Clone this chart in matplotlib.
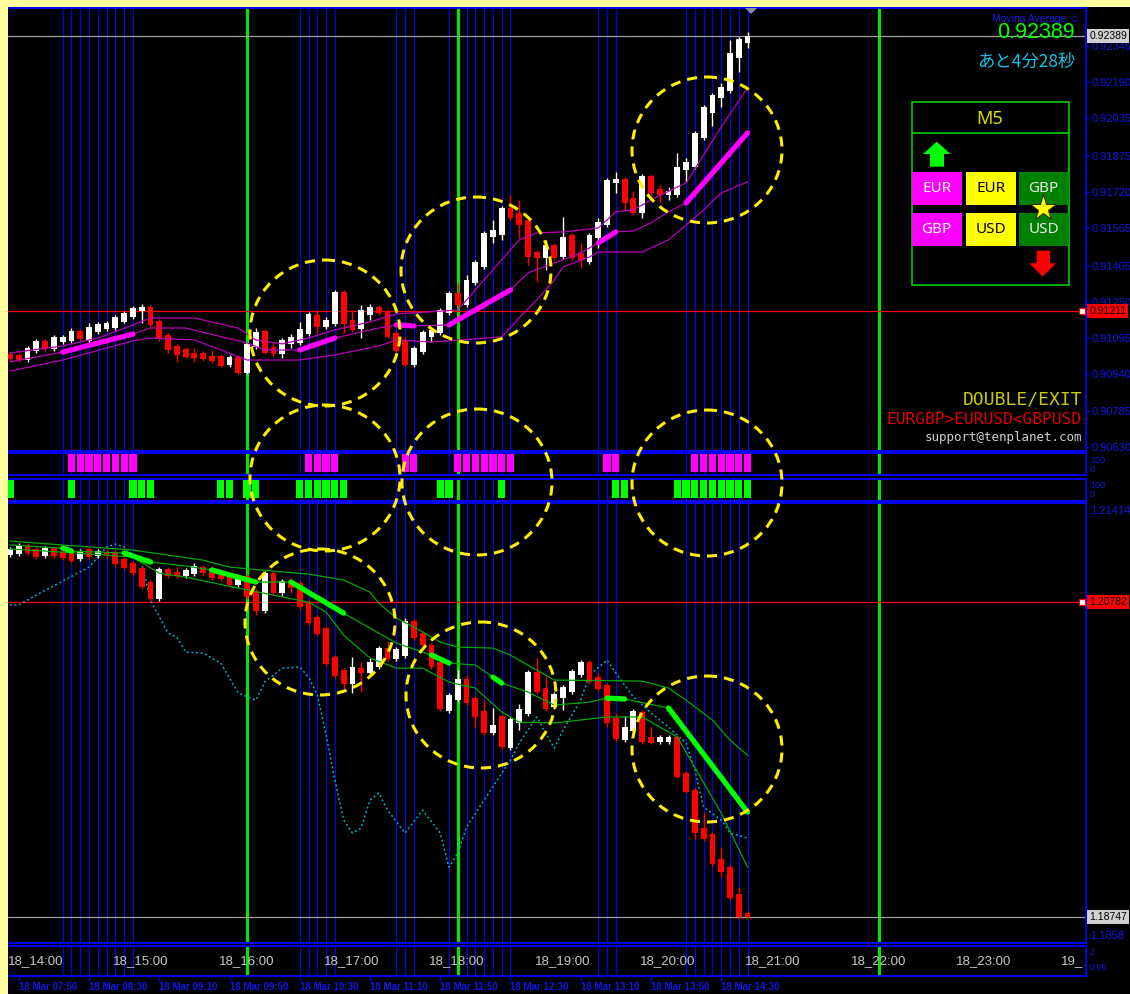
import numpy as np
import matplotlib
matplotlib.use('Agg')
import matplotlib.pyplot as plt
from matplotlib.patches import Rectangle, Ellipse, Polygon
from matplotlib.transforms import blended_transform_factory

plt.rcParams['font.family'] = ['Liberation Sans', 'DejaVu Sans']

# ---------------- data ----------------
# EURGBP M5 candles (top panel), 85 bars from 18_14:00
eg_open = [0.91027, 0.91023, 0.91001, 0.91040, 0.91083, 0.91048, 0.91078, 0.91083, 0.91125, 0.91083,
           0.91121, 0.91134, 0.91138, 0.91164, 0.91185, 0.91211, 0.91228, 0.91168, 0.91108, 0.91061,
           0.91048, 0.91031, 0.91031, 0.91018, 0.91018, 0.90980, 0.91014, 0.90946, 0.91057, 0.91125,
           0.91057, 0.91027, 0.91070, 0.91074, 0.91112, 0.91194, 0.91142, 0.91155, 0.91292, 0.91172,
           0.91134, 0.91194, 0.91228, 0.91211, 0.91117, 0.91087, 0.90980, 0.91035, 0.91100, 0.91117,
           0.91202, 0.91288, 0.91237, 0.91331, 0.91399, 0.91528, 0.91536, 0.91652, 0.91630, 0.91600,
           0.91463, 0.91438, 0.91493, 0.91442, 0.91536, 0.91459, 0.91421, 0.91523, 0.91579, 0.91759,
           0.91776, 0.91695, 0.91630, 0.91789, 0.91733, 0.91707, 0.91707, 0.91814, 0.91827, 0.91951,
           0.92058, 0.92123, 0.92153, 0.92294, 0.92358]
eg_high = [0.91035, 0.91031, 0.91061, 0.91091, 0.91091, 0.91108, 0.91108, 0.91138, 0.91134, 0.91160,
           0.91164, 0.91168, 0.91194, 0.91211, 0.91232, 0.91241, 0.91237, 0.91177, 0.91117, 0.91070,
           0.91057, 0.91052, 0.91040, 0.91044, 0.91027, 0.91023, 0.91023, 0.91078, 0.91138, 0.91134,
           0.91074, 0.91095, 0.91112, 0.91164, 0.91207, 0.91215, 0.91185, 0.91301, 0.91301, 0.91215,
           0.91237, 0.91241, 0.91237, 0.91219, 0.91125, 0.91100, 0.91061, 0.91130, 0.91138, 0.91224,
           0.91297, 0.91331, 0.91365, 0.91429, 0.91553, 0.91600, 0.91660, 0.91707, 0.91686, 0.91609,
           0.91472, 0.91515, 0.91502, 0.91613, 0.91545, 0.91502, 0.91545, 0.91609, 0.91780, 0.91806,
           0.91784, 0.91725, 0.91797, 0.91797, 0.91750, 0.91742, 0.91887, 0.91866, 0.91981, 0.92093,
           0.92144, 0.92187, 0.92371, 0.92384, 0.92405]
eg_low = [0.90997, 0.90993, 0.90993, 0.91031, 0.91040, 0.91040, 0.91070, 0.91074, 0.91083, 0.91074,
          0.91112, 0.91125, 0.91130, 0.91160, 0.91177, 0.91160, 0.91142, 0.91083, 0.91031, 0.90993,
          0.91010, 0.90993, 0.90997, 0.90988, 0.90971, 0.90971, 0.90941, 0.90941, 0.91048, 0.91027,
          0.91018, 0.91010, 0.91052, 0.91065, 0.91104, 0.91117, 0.91134, 0.91147, 0.91117, 0.91121,
          0.91095, 0.91172, 0.91194, 0.91095, 0.91035, 0.90975, 0.90971, 0.91027, 0.91078, 0.91108,
          0.91194, 0.91228, 0.91228, 0.91322, 0.91391, 0.91502, 0.91515, 0.91600, 0.91523, 0.91408,
          0.91335, 0.91386, 0.91429, 0.91433, 0.91429, 0.91395, 0.91412, 0.91481, 0.91570, 0.91716,
          0.91643, 0.91622, 0.91609, 0.91707, 0.91678, 0.91686, 0.91699, 0.91763, 0.91819, 0.91943,
          0.92003, 0.92084, 0.92144, 0.92234, 0.92337]
eg_close = [0.91005, 0.91001, 0.91052, 0.91083, 0.91048, 0.91100, 0.91100, 0.91125, 0.91091, 0.91142,
            0.91155, 0.91160, 0.91185, 0.91202, 0.91224, 0.91228, 0.91151, 0.91091, 0.91044, 0.91023,
            0.91014, 0.91010, 0.91005, 0.90997, 0.90975, 0.91014, 0.90946, 0.91070, 0.91121, 0.91031,
            0.91027, 0.91087, 0.91100, 0.91134, 0.91198, 0.91142, 0.91172, 0.91292, 0.91155, 0.91130,
            0.91215, 0.91228, 0.91202, 0.91100, 0.91040, 0.90980, 0.91052, 0.91121, 0.91130, 0.91215,
            0.91288, 0.91237, 0.91344, 0.91421, 0.91545, 0.91558, 0.91652, 0.91609, 0.91579, 0.91442,
            0.91438, 0.91493, 0.91438, 0.91528, 0.91438, 0.91429, 0.91536, 0.91592, 0.91772, 0.91776,
            0.91673, 0.91630, 0.91789, 0.91716, 0.91707, 0.91725, 0.91827, 0.91849, 0.91973, 0.92084,
            0.92135, 0.92170, 0.92315, 0.92375, 0.92388]

# EURGBP moving-average band (vertices: bar index, price)
eg_up_i = [0, 6, 10, 14, 16, 21, 26, 28, 31, 34, 37, 41, 44, 51, 54, 58, 60, 63, 67, 69, 71, 73, 77, 81, 84]
eg_up = [0.91031, 0.91061, 0.91095, 0.91151, 0.91181, 0.91181, 0.91138, 0.91087, 0.91070, 0.91095,
         0.91130, 0.91164, 0.91198, 0.91215, 0.91344, 0.91515, 0.91545, 0.91549, 0.91566, 0.91635,
         0.91643, 0.91686, 0.91759, 0.91998, 0.92165]
eg_mid_i = [0, 6, 14, 16, 20, 27, 29, 33, 37, 42, 44, 46, 50, 57, 59, 62, 65, 67, 69, 71, 73, 75, 77, 84]
eg_mid = [0.90993, 0.91035, 0.91112, 0.91138, 0.91138, 0.91074, 0.91044, 0.91044, 0.91095, 0.91138,
          0.91151, 0.91147, 0.91151, 0.91301, 0.91374, 0.91416, 0.91459, 0.91502, 0.91549, 0.91553,
          0.91588, 0.91635, 0.91673, 0.91973]
eg_lo_i = [0, 6, 14, 16, 21, 27, 33, 37, 42, 44, 48, 56, 58, 60, 62, 63, 66, 67, 72, 75, 77, 79, 81, 84]
eg_lo = [0.90954, 0.91001, 0.91083, 0.91095, 0.91087, 0.91001, 0.91001, 0.91023, 0.91061, 0.91087,
         0.91078, 0.91100, 0.91181, 0.91258, 0.91344, 0.91399, 0.91442, 0.91463, 0.91463, 0.91515,
         0.91579, 0.91643, 0.91716, 0.91763]
eg_trend = [(6, 14), (33, 37), (44, 46), (50, 57), (67, 69), (77, 84)]

# EURUSD M5 candles (lower panel)
eu_open = [1.21088, 1.21094, 1.21153, 1.21127, 1.21082, 1.21133, 1.21107, 1.21101, 1.21062, 1.21127,
           1.21082, 1.21107, 1.21107, 1.21062, 1.21036, 1.21004, 1.20913, 1.20803, 1.20997, 1.20978,
           1.20952, 1.20965, 1.21010, 1.21004, 1.20971, 1.20958, 1.20893, 1.20952, 1.20854, 1.20725,
           1.20971, 1.20841, 1.20919, 1.20906, 1.20783, 1.20686, 1.20615, 1.20427, 1.20343, 1.20253,
           1.20356, 1.20324, 1.20363, 1.20486, 1.20414, 1.20434, 1.20660, 1.20583, 1.20505, 1.20395,
           1.20078, 1.20149, 1.20285, 1.20162, 1.20078, 1.19936, 1.20046, 1.19839, 1.20001, 1.20059,
           1.20330, 1.20227, 1.20104, 1.20162, 1.20201, 1.20311, 1.20395, 1.20298, 1.20246, 1.20035,
           1.19890, 1.19949, 1.20072, 1.19910, 1.19877, 1.19877, 1.19910, 1.19677, 1.19567, 1.19321,
           1.19282, 1.19120, 1.19068, 1.18894, 1.18771]
eu_high = [1.21140, 1.21166, 1.21166, 1.21140, 1.21146, 1.21146, 1.21120, 1.21114, 1.21127, 1.21140,
           1.21127, 1.21127, 1.21120, 1.21075, 1.21049, 1.21017, 1.20926, 1.21010, 1.21010, 1.21010,
           1.21004, 1.21036, 1.21023, 1.21017, 1.20984, 1.20971, 1.20965, 1.20965, 1.20867, 1.20984,
           1.20984, 1.20932, 1.20939, 1.20919, 1.20796, 1.20699, 1.20628, 1.20440, 1.20356, 1.20427,
           1.20395, 1.20421, 1.20499, 1.20531, 1.20492, 1.20680, 1.20673, 1.20596, 1.20520, 1.20408,
           1.20195, 1.20343, 1.20311, 1.20175, 1.20149, 1.20098, 1.20059, 1.20040, 1.20123, 1.20343,
           1.20421, 1.20305, 1.20201, 1.20246, 1.20350, 1.20408, 1.20408, 1.20324, 1.20259, 1.20065,
           1.20046, 1.20091, 1.20085, 1.19975, 1.19923, 1.19923, 1.19923, 1.19690, 1.19580, 1.19424,
           1.19295, 1.19198, 1.19081, 1.18939, 1.18784]
eu_low = [1.21075, 1.21082, 1.21088, 1.21062, 1.21069, 1.21069, 1.21055, 1.21036, 1.21049, 1.21062,
          1.21069, 1.21069, 1.21017, 1.20991, 1.20958, 1.20867, 1.20790, 1.20790, 1.20939, 1.20939,
          1.20939, 1.20952, 1.20958, 1.20926, 1.20919, 1.20880, 1.20880, 1.20803, 1.20699, 1.20712,
          1.20829, 1.20822, 1.20841, 1.20732, 1.20635, 1.20564, 1.20369, 1.20292, 1.20214, 1.20195,
          1.20201, 1.20311, 1.20350, 1.20401, 1.20401, 1.20421, 1.20538, 1.20492, 1.20350, 1.20078,
          1.20065, 1.20136, 1.20117, 1.19975, 1.19923, 1.19923, 1.19832, 1.19826, 1.19955, 1.20046,
          1.20188, 1.20078, 1.20091, 1.20085, 1.20188, 1.20298, 1.20253, 1.20208, 1.19975, 1.19884,
          1.19877, 1.19936, 1.19864, 1.19864, 1.19864, 1.19864, 1.19645, 1.19548, 1.19250, 1.19237,
          1.19075, 1.19004, 1.18855, 1.18732, 1.18732]
eu_close = [1.21127, 1.21153, 1.21101, 1.21075, 1.21133, 1.21082, 1.21069, 1.21049, 1.21114, 1.21075,
            1.21114, 1.21082, 1.21030, 1.21004, 1.20971, 1.20880, 1.20803, 1.20997, 1.20952, 1.20952,
            1.20991, 1.21017, 1.20971, 1.20939, 1.20932, 1.20893, 1.20952, 1.20816, 1.20725, 1.20971,
            1.20841, 1.20919, 1.20874, 1.20751, 1.20647, 1.20577, 1.20382, 1.20305, 1.20253, 1.20363,
            1.20324, 1.20395, 1.20486, 1.20414, 1.20479, 1.20660, 1.20551, 1.20505, 1.20363, 1.20091,
            1.20182, 1.20285, 1.20130, 1.20040, 1.19936, 1.19988, 1.19845, 1.20027, 1.20091, 1.20330,
            1.20201, 1.20091, 1.20188, 1.20233, 1.20337, 1.20395, 1.20266, 1.20220, 1.20001, 1.19897,
            1.19975, 1.20078, 1.19877, 1.19871, 1.19910, 1.19910, 1.19651, 1.19554, 1.19289, 1.19250,
            1.19088, 1.19036, 1.18868, 1.18745, 1.18745]

# EURUSD moving-average band
eu_up_i = [0, 6, 14, 22, 25, 30, 34, 38, 41, 42, 44, 46, 49, 51, 55, 57, 60, 62, 72, 75, 77, 80, 82, 84]
eu_up = [1.21179, 1.21153, 1.21120, 1.21055, 1.21010, 1.20984, 1.20965, 1.20926, 1.20848, 1.20777,
         1.20680, 1.20622, 1.20525, 1.20492, 1.20486, 1.20440, 1.20343, 1.20279, 1.20272, 1.20227,
         1.20149, 1.20020, 1.19890, 1.19793]
eu_mid_i = [0, 6, 7, 13, 16, 20, 23, 28, 32, 38, 41, 44, 48, 50, 53, 55, 56, 59, 62, 66, 68, 70, 75, 84]
eu_mid = [1.21153, 1.21133, 1.21114, 1.21101, 1.21043, 1.21017, 1.20991, 1.20913, 1.20913, 1.20712,
          1.20615, 1.20518, 1.20441, 1.20389, 1.20376, 1.20298, 1.20259, 1.20201, 1.20117, 1.20136,
          1.20162, 1.20156, 1.20098, 1.19424]
eu_lo_i = [0, 6, 14, 17, 20, 26, 34, 36, 38, 41, 44, 47, 50, 53, 56, 58, 62, 68, 72, 76, 81, 84]
eu_lo = [1.21127, 1.21107, 1.21075, 1.20971, 1.20945, 1.20874, 1.20783, 1.20719, 1.20570, 1.20421,
         1.20356, 1.20356, 1.20266, 1.20227, 1.20072, 1.20007, 1.20001, 1.20040, 1.20040, 1.19910,
         1.19418, 1.19068]
eu_trend = [(6, 7), (13, 16), (23, 28), (32, 38), (48, 50), (55, 56), (68, 70), (75, 84)]

# dotted cyan overlay in the lower panel
cy_i = [0, 1, 3, 6, 9, 11, 12, 13, 15, 16, 18, 19, 20, 22, 24, 26, 28, 29, 31, 33,
        34, 35, 36, 37, 38, 39, 40, 41, 42, 43, 45, 47, 49, 50, 51, 52, 54, 57, 58, 60,
        61, 62, 63, 65, 66, 68, 69, 71, 73, 75, 77, 78, 79, 81, 82, 84]
cy_v = [1.20765, 1.20765, 1.20829, 1.20920, 1.21010, 1.21140, 1.21159, 1.21140, 1.21036, 1.20796,
        1.20583, 1.20557, 1.20460, 1.20453, 1.20389, 1.20195, 1.20149, 1.20266, 1.20356, 1.20363,
        1.20298, 1.20182, 1.19923, 1.19632, 1.19373, 1.19289, 1.19321, 1.19502, 1.19548, 1.19437,
        1.19289, 1.19437, 1.19289, 1.19068, 1.19159, 1.19328, 1.19502, 1.19761, 1.19871, 1.20040,
        1.19936, 1.19839, 1.19955, 1.20149, 1.20311, 1.20408, 1.20324, 1.20169, 1.20066, 1.19975,
        1.19871, 1.19696, 1.19457, 1.19373, 1.19289, 1.19256]

# signal strips
mag_on = [7, 8, 9, 10, 11, 12, 13, 14, 34, 35, 36, 37, 45, 46, 51, 52, 53, 54, 55, 56, 57,
          68, 69, 78, 79, 80, 81, 82, 83, 84]
grn_on = [0, 7, 14, 15, 16, 24, 25, 27, 28, 33, 34, 35, 36, 37, 38, 49, 50, 56, 69, 70,
          76, 77, 78, 79, 80, 81, 82, 83, 84]

blue_idx = [6, 7, 8, 9, 10, 11, 12, 13, 14, 33, 34, 35, 36, 37, 44, 45, 46, 50, 52, 53, 54,
            55, 56, 57, 67, 68, 69, 77, 78, 79, 80, 81, 82, 83, 84]
green_idx = [27, 51, 99]

# the last hour label is cut by the chart edge in the original
hour_labels = ['18_14:00', '18_15:00', '18_16:00', '18_17:00', '18_18:00', '18_19:00',
               '18_20:00', '18_21:00', '18_22:00', '18_23:00', '19_']
date_labels = ['18 Mar 07:50', '18 Mar 08:30', '18 Mar 09:10', '18 Mar 09:50', '18 Mar 10:30',
               '18 Mar 11:10', '18 Mar 11:50', '18 Mar 12:30', '18 Mar 13:10', '18 Mar 13:50',
               '18 Mar 14:30']

eg_ticks = [0.92345, 0.92190, 0.92035, 0.91875, 0.91720, 0.91565, 0.91405, 0.91250,
            0.91095, 0.90940, 0.90785, 0.90630]
eg_last, eg_line = 0.92389, 0.91211
eu_last, eu_line = 1.18747, 1.20782
eu_max, eu_min = 1.21414, 1.1858

# ---------------- layout ----------------
W, H = 1130, 994
fig = plt.figure(figsize=(W / 100, H / 100), dpi=100, facecolor='black')

XL, XR = -0.228, 122.55
AXBLUE = '#0000F0'
TXTBLUE = '#1414E6'


def panel(y0, y1, ylo, yhi):
    ax = fig.add_axes([8 / W, 1 - y1 / H, 1078 / W, (y1 - y0) / H])
    ax.set_facecolor('black')
    ax.set_xlim(XL, XR)
    ax.set_ylim(ylo, yhi)
    ax.set_xticks([])
    ax.set_yticks([])
    for s in ax.spines.values():
        s.set_color(AXBLUE)
        s.set_linewidth(1.4)
    ax.spines['left'].set_visible(False)
    for i in blue_idx:
        ax.axvline(i, color='#0000FF', lw=0.8, zorder=1)
    for i in green_idx:
        ax.axvline(i, color='#00E600', lw=2.2, zorder=1.2)
    return ax


def candles(ax, o, h, l, c, tick):
    o, h, l, c = map(np.asarray, (o, h, l, c))
    x = np.arange(len(o))
    cols = ['#FFFFFF' if cc >= oo else '#FF0000' for oo, cc in zip(o, c)]
    ax.vlines(x, l, h, colors=cols, lw=1.0, zorder=4)
    ax.bar(x, np.maximum(np.abs(c - o), tick), bottom=np.minimum(o, c), width=0.66,
           color=cols, linewidth=0, zorder=5)


def band(ax, up_i, up, mid_i, mid, lo_i, lo, segs, thin, thick):
    ax.plot(up_i, up, color=thin, lw=0.9, zorder=6)
    ax.plot(mid_i, mid, color=thin, lw=0.9, zorder=6)
    ax.plot(lo_i, lo, color=thin, lw=0.9, zorder=6)
    for a, b in segs:
        xs = [i for i in mid_i if a <= i <= b]
        ys = [v for i, v in zip(mid_i, mid) if a <= i <= b]
        ax.plot(xs, ys, color=thick, lw=3.8, solid_capstyle='round', zorder=7)


def price_tag(ax, y, txt, fc):
    tr = blended_transform_factory(ax.transAxes, ax.transData)
    ax.text(1.003, y, txt, transform=tr, ha='left', va='center', fontsize=7.5,
            color='black', clip_on=False, zorder=9,
            bbox=dict(boxstyle='square,pad=0.18', fc=fc, ec='none'))


# top panel: EURGBP
ax1 = panel(8.3, 450.7, 0.90613, 0.92506)
candles(ax1, eg_open, eg_high, eg_low, eg_close, 0.00005)
band(ax1, eg_up_i, eg_up, eg_mid_i, eg_mid, eg_lo_i, eg_lo, eg_trend, '#B800B8', '#FF00FF')
ax1.axhline(eg_last, color='#A0A0A0', lw=0.9, zorder=2)
ax1.axhline(eg_line, color='#FF0000', lw=0.9, zorder=2)
ax1.yaxis.tick_right()
ax1.set_yticks(eg_ticks)
ax1.set_yticklabels([f'{t:.5f}' for t in eg_ticks])
ax1.tick_params(axis='y', colors=AXBLUE, labelcolor=TXTBLUE, labelsize=8,
                length=2.5, width=1, pad=1.2, right=True, left=False)
tr1 = blended_transform_factory(ax1.transAxes, ax1.transData)
ax1.plot([0.9963], [eg_line], marker='s', ms=4, mfc='white', mec='#FF0000', mew=0.8,
         transform=tr1, clip_on=False, zorder=8)
price_tag(ax1, eg_last, f'{eg_last:.5f}', '#D0D0D0')
price_tag(ax1, eg_line, f'{eg_line:.5f}', '#FF0000')

# signal strips
ax2 = panel(452.7, 475.3, -0.184, 1.072)
ax2.bar(mag_on, [1] * len(mag_on), width=0.82, color='#FF00FF', linewidth=0, zorder=3)
ax3 = panel(479.0, 501.0, -0.167, 1.056)
ax3.bar(grn_on, [1] * len(grn_on), width=0.82, color='#00FF00', linewidth=0, zorder=3)

# lower panel: EURUSD
ax4 = panel(503.3, 943.3, 1.18575, 1.21423)
ax4.plot(cy_i, cy_v, color='#00B8D8', lw=1.1, ls=(0, (1.2, 1.8)), zorder=3)
candles(ax4, eu_open, eu_high, eu_low, eu_close, 0.00008)
band(ax4, eu_up_i, eu_up, eu_mid_i, eu_mid, eu_lo_i, eu_lo, eu_trend, '#00A800', '#00FF00')
ax4.axhline(eu_last, color='#A0A0A0', lw=0.9, zorder=2)
ax4.axhline(eu_line, color='#FF0000', lw=0.9, zorder=2)
tr4 = blended_transform_factory(ax4.transAxes, ax4.transData)
ax4.plot([0.9963], [eu_line], marker='s', ms=4, mfc='white', mec='#FF0000', mew=0.8,
         transform=tr4, clip_on=False, zorder=8)
price_tag(ax4, eu_last, f'{eu_last:.5f}', '#D0D0D0')
price_tag(ax4, eu_line, f'{eu_line:.5f}', '#FF0000')

# time strip
ax5 = panel(945.7, 975.7, 0, 1)
for k, lab in enumerate(hour_labels):
    ax5.text(k * 12 - 0.25, 0.5, lab, ha='left', va='center', fontsize=9.5,
             color='#C8C8C8', clip_on=True, zorder=5)
date_idx = list(range(1, 85, 8))
ax5.set_xticks(date_idx)
ax5.set_xticklabels(date_labels, ha='left', fontsize=7, fontweight='bold', color=TXTBLUE)
ax5.tick_params(axis='x', bottom=True, length=3.5, width=1, color=AXBLUE, pad=1.2)

# ---------------- overlay (pixel coordinates) ----------------
ov = fig.add_axes([0, 0, 1, 1], zorder=20)
ov.set_xlim(0, W)
ov.set_ylim(H, 0)
ov.axis('off')
ov.patch.set_alpha(0)

ov.add_patch(Rectangle((0, 0), 7.5, H, fc='#FFFFA0', ec='none'))
ov.add_patch(Rectangle((0, 0), W, 7, fc='#FFFFA0', ec='none'))
ov.add_patch(Polygon([(745, 8), (757, 8), (751, 14)], closed=True, fc='#8090A8', ec='none'))

# right-axis texts of the other panels
ov.text(1090, 511, f'{eu_max:.5f}', color=TXTBLUE, fontsize=8, ha='left', va='center')
ov.text(1090, 936, f'{eu_min:.4f}', color=TXTBLUE, fontsize=8, ha='left', va='center')
for yy, tt in [(460.3, '100'), (469.2, '0'), (485.3, '100'), (494.2, '0'),
               (952.5, '2'), (967.5, '0.00')]:
    ov.text(1090, yy, tt, color=TXTBLUE, fontsize=6.5, ha='left', va='center')

# header texts
ov.text(1080, 19, 'Moving Average \u263a', color='#1818E8', fontsize=7.5, ha='right', va='center')
ov.text(1075, 33, f'{eg_last:.5f}', color='#00FF00', fontsize=15.5, ha='right', va='center')
ov.text(1075, 61.5, 'あと4分28秒', color='#10C4E6', fontsize=12.5, ha='right', va='center',
        family=['Noto Sans CJK JP', 'DejaVu Sans'])

# M5 currency box
ov.add_patch(Rectangle((911.7, 102), 157, 183, fill=False, ec='#00CC00', lw=1.2))
ov.plot([911.7, 1068.7], [132.7, 132.7], color='#00CC00', lw=1.2)
ov.text(990, 118.5, 'M5', color='#DCDC00', fontsize=13, ha='center', va='center',
        family=['Noto Sans', 'DejaVu Sans'])
ov.add_patch(Polygon([(936.7, 141.7), (950.7, 154), (944, 154), (944, 166.7), (930, 166.7),
                      (930, 154), (923, 154)], closed=True, fc='#00FF00', ec='none'))
ov.add_patch(Polygon([(1036.7, 250.7), (1050, 250.7), (1050, 263.3), (1056, 263.3),
                      (1042.7, 276.7), (1029.3, 263.3), (1036.7, 263.3)],
                     closed=True, fc='#FF0000', ec='none'))
box_rows = [(172, ['EUR', 'EUR', 'GBP']), (212.7, ['GBP', 'USD', 'USD'])]
box_cols = [(911.7, '#FF00FF', 'white'), (966, '#FFFF00', 'black'), (1018.7, '#008000', '#E8E8E8')]
for ry, names in box_rows:
    for (cx, fc, tc), nm in zip(box_cols, names):
        ov.add_patch(Rectangle((cx, ry), 50, 33, fc=fc, ec='none'))
        ov.text(cx + 25, ry + 16.5, nm, color=tc, fontsize=11, ha='center', va='center',
                family=['Noto Sans', 'DejaVu Sans'])
ov.plot([1043.3], [208.3], marker='*', ms=20, mfc='#FFFF00', mec='#303000', mew=0.8)

# bottom-right texts
ov.text(1082, 399, 'DOUBLE/EXIT', color='#C8C800', fontsize=13, ha='right', va='center',
        family='DejaVu Sans Mono')
ov.text(1082, 419, 'EURGBP>EURUSD<GBPUSD', color='#DC0000', fontsize=11.7, ha='right',
        va='center', family='DejaVu Sans Mono')
ov.text(1082, 438, 'support@tenplanet.com', color='#D0D0D0', fontsize=9, ha='right',
        va='center', family='DejaVu Sans Mono')

# dashed yellow marks
spots = [(325, 333), (476, 270), (707, 150), (325, 478), (477, 482), (707, 483),
         (320, 622), (481, 695), (707, 749)]
for cx, cy in spots:
    ov.add_patch(Ellipse((cx, cy), 150, 146, fill=False, ec='#FFEE00', lw=2.2,
                         ls=(0, (3.3, 2.3))))

fig.savefig('out.png', dpi=100, facecolor='black')
